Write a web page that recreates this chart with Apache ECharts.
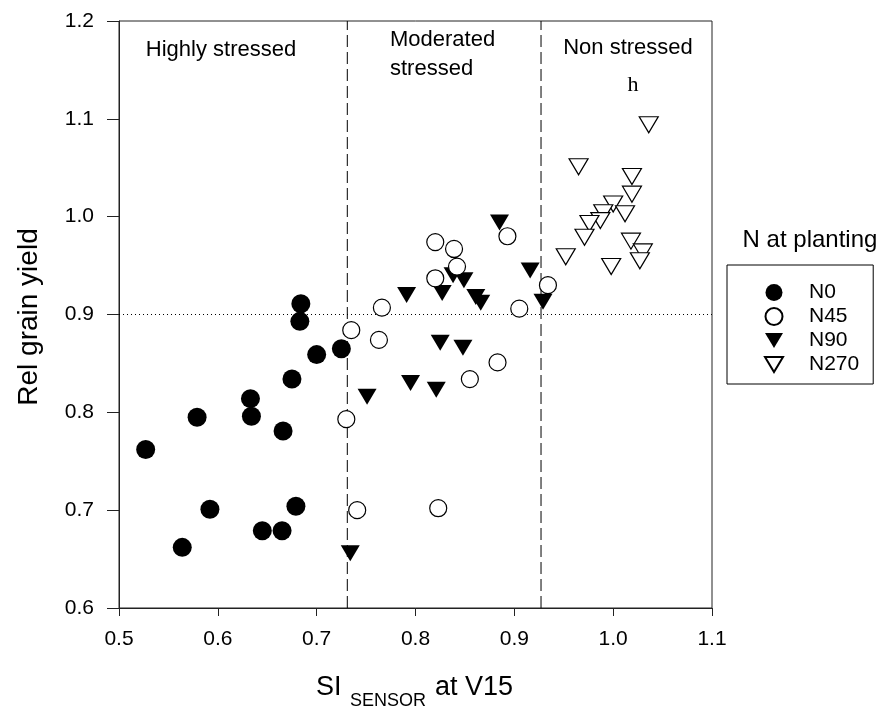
<!DOCTYPE html>
<html>
<head>
<meta charset="utf-8">
<script src="https://cdn.jsdelivr.net/npm/echarts@6/dist/echarts.min.js"></script>
<style>html,body{margin:0;padding:0;background:#fff}#c{width:888px;height:714px}</style>
</head>
<body>
<div id="c"></div>
<script>
// ---- data ----
const n0 = [[0.527,0.762],[0.564,0.662],[0.579,0.795],[0.592,0.701],[0.633,0.814],[0.634,0.796],[0.645,0.679],[0.665,0.679],[0.666,0.781],[0.675,0.834],[0.679,0.704],[0.684,0.911],[0.683,0.893],[0.700,0.859],[0.725,0.865]];
const n45 = [[0.820,0.974],[0.839,0.967],[0.842,0.949],[0.820,0.937],[0.893,0.980],[0.934,0.930],[0.905,0.906],[0.766,0.907],[0.735,0.884],[0.763,0.874],[0.883,0.851],[0.855,0.834],[0.730,0.793],[0.741,0.700],[0.823,0.702]];
const n90 = [[0.885,0.994],[0.838,0.940],[0.849,0.935],[0.827,0.922],[0.791,0.920],[0.861,0.918],[0.866,0.912],[0.916,0.945],[0.929,0.913],[0.825,0.871],[0.848,0.866],[0.795,0.830],[0.821,0.823],[0.751,0.816],[0.734,0.656]];
const n270 = [[1.036,1.094],[0.965,1.051],[1.019,1.041],[1.019,1.023],[1.000,1.013],[0.990,1.004],[0.987,0.996],[1.012,1.003],[0.976,0.993],[0.971,0.979],[1.018,0.975],[1.030,0.964],[1.027,0.955],[0.998,0.949],[0.952,0.959]];
const seriesNames = ['N0','N45','N90','N270'];
const stressBounds = [0.731, 0.927];   // vertical dashed lines (x)
const yieldRef = 0.9;                   // horizontal dotted line (y)
const xRange = [0.5, 1.1];
const yRange = [0.6, 1.2];
const tickStep = 0.1;

const FONT = '"Liberation Sans", Arial, sans-serif';
const tri = 'path://M0,0L10,0L5,8.3Z';
const chart = echarts.init(document.getElementById('c'), null, {renderer: 'canvas'});

const series = [
  {name: seriesNames[0], type: 'scatter', data: n0, symbol: 'circle', symbolSize: 19,
   itemStyle: {color: '#000', borderColor: '#000', borderWidth: 0, opacity: 1}, z: 5},
  {name: seriesNames[1], type: 'scatter', data: n45, symbol: 'circle', symbolSize: 17,
   itemStyle: {color: '#fff', borderColor: '#000', borderWidth: 1.2, opacity: 1}, z: 6},
  {name: seriesNames[2], type: 'scatter', data: n90, symbol: tri, symbolSize: [19, 16], symbolKeepAspect: false,
   itemStyle: {color: '#000', borderColor: '#000', borderWidth: 0, opacity: 1}, z: 5},
  {name: seriesNames[3], type: 'scatter', data: n270, symbol: tri, symbolSize: [19, 16], symbolKeepAspect: false,
   itemStyle: {color: '#fff', borderColor: '#000', borderWidth: 1.2, opacity: 1}, z: 6}
];
stressBounds.forEach(function (b) {
  series.push({type: 'line', data: [[b, yRange[0]], [b, yRange[1]]], symbol: 'none', silent: true, z: 2,
    lineStyle: {color: '#000', width: 1, type: [12, 5]}});
});
series.push({type: 'line', data: [[xRange[0], yieldRef], [xRange[1], yieldRef]], symbol: 'none', silent: true, z: 2,
  lineStyle: {color: '#000', width: 1, type: [1, 3]}});

const axisCommon = {
  axisLine: {show: true, onZero: false, lineStyle: {color: '#222', width: 1}},
  axisTick: {show: true, inside: false, lineStyle: {color: '#222', width: 1}},
  splitLine: {show: false},
  axisLabel: {color: '#000', fontFamily: FONT, fontSize: 21, formatter: function (v) { return v.toFixed(1); }}
};

chart.setOption({
  animation: false,
  backgroundColor: '#fff',
  grid: {left: 119, right: 176, top: 21, bottom: 106, show: true, borderColor: '#222', borderWidth: 1, backgroundColor: 'transparent'},
  xAxis: Object.assign({}, axisCommon, {
    type: 'value', min: xRange[0], max: xRange[1], interval: tickStep,
    axisTick: {show: true, length: 8, lineStyle: {color: '#222', width: 1}},
    axisLabel: Object.assign({}, axisCommon.axisLabel, {margin: 21})
  }),
  yAxis: Object.assign({}, axisCommon, {
    type: 'value', min: yRange[0], max: yRange[1], interval: tickStep,
    axisTick: {show: true, length: 12, lineStyle: {color: '#222', width: 1}},
    axisLabel: Object.assign({}, axisCommon.axisLabel, {margin: 25})
  }),
  legend: {
    data: seriesNames, orient: 'vertical', left: 727, top: 265,
    padding: [17, 14, 9, 37], itemGap: 3, itemWidth: 18, itemHeight: 17,
    borderColor: '#000', borderWidth: 1, backgroundColor: '#fff',
    textStyle: {color: '#000', fontFamily: FONT, fontSize: 21, lineHeight: 21, padding: [0, 0, 0, 21]},
    selectedMode: false
  },
  graphic: [
    {type: 'text', style: {text: 'Highly stressed', x: 221, y: 50, textAlign: 'center', textVerticalAlign: 'middle', font: '22px ' + FONT, fill: '#000'}},
    {type: 'text', style: {text: 'Moderated', x: 390, y: 40, textAlign: 'left', textVerticalAlign: 'middle', font: '22px ' + FONT, fill: '#000'}},
    {type: 'text', style: {text: 'stressed', x: 390, y: 69, textAlign: 'left', textVerticalAlign: 'middle', font: '22px ' + FONT, fill: '#000'}},
    {type: 'text', style: {text: 'Non stressed', x: 628, y: 48, textAlign: 'center', textVerticalAlign: 'middle', font: '22px ' + FONT, fill: '#000'}},
    {type: 'text', style: {text: 'h', x: 633, y: 85, textAlign: 'center', textVerticalAlign: 'middle', font: '22px "Liberation Serif", "DejaVu Serif", serif', fill: '#000'}},
    {type: 'text', style: {text: 'N at planting', x: 810, y: 240, textAlign: 'center', textVerticalAlign: 'middle', font: '24px ' + FONT, fill: '#000'}},
    {type: 'text', rotation: Math.PI / 2, x: 29, y: 317,
     style: {text: 'Rel grain yield', x: 0, y: 0, textAlign: 'center', textVerticalAlign: 'middle', font: '28px ' + FONT, fill: '#000'}},
    {type: 'text', style: {text: 'SI', x: 316, y: 701, textAlign: 'left', textVerticalAlign: 'bottom', font: '27px ' + FONT, fill: '#000'}},
    {type: 'text', style: {text: 'SENSOR', x: 350, y: 710, textAlign: 'left', textVerticalAlign: 'bottom', font: '18px ' + FONT, fill: '#000'}},
    {type: 'text', style: {text: 'at V15', x: 435, y: 701, textAlign: 'left', textVerticalAlign: 'bottom', font: '27px ' + FONT, fill: '#000'}}
  ],
  series: series
});
</script>
</body>
</html>
